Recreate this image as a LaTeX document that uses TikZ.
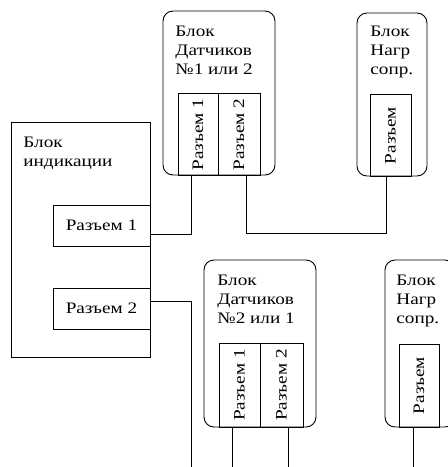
\documentclass[tikz,border=0pt]{standalone}
\usepackage{fontspec}
\setmainfont[FakeStretch=1.2]{Liberation Serif}
\usepackage{tikz}
\usetikzlibrary{positioning,calc}
\newcommand{\vtext}[1]{\rotatebox{90}{#1}}

\begin{document}
\begin{tikzpicture}[x=1pt, y=-1pt, line width=0.9pt,
    every node/.style={font=\fontsize{16}{19}\selectfont, inner sep=0pt},
    blok/.style={draw, rounded corners=10pt},
    gnezdo/.style={draw, minimum width=41pt, minimum height=82pt},
    razem/.style={draw, minimum width=97pt, minimum height=41pt},
    title/.style={anchor=north west, align=left}]
  \useasboundingbox (0,0) rectangle (448,467);
  \clip (0,0) rectangle (448,467);
  \coordinate (niz) at (0,467);
  % indication block
  \node[draw, minimum width=139pt, minimum height=235pt] (ind) at (80.5,239.5) {};
  \node[title] (indt) at (23,137) {Блок\\индикации};
  \node[razem] (r1) at (101.5,225.5) {Разъем 1};
  \node[razem] (r2) at (101.5,308.5) {Разъем 2};
  % sensors block, top
  \node[blok, minimum width=112pt, minimum height=164pt] (s1) at (219,93) {};
  \node[title] (s1t) at (175,26) {Блок\\Датчиков\\№1 или 2};
  \node[gnezdo, minimum width=40pt] (s1a) at (198,134.5) {\vtext{Разъем 1}};
  \node[gnezdo, minimum width=42pt] (s1b) at (239,134.5) {\vtext{Разъем 2}};
  % load block, top
  \node[blok, minimum width=70pt, minimum height=163pt] (n1) at (392,94.5) {};
  \node[title] (n1t) at (370,26) {Блок\\Нагр\\сопр.};
  \node[gnezdo] (n1g) at (390.5,135.5) {\vtext{Разъем}};
  % sensors block, bottom
  \node[blok, minimum width=112pt, minimum height=167pt] (s2) at (260,343.5) {};
  \node[title] (s2t) at (217,275) {Блок\\Датчиков\\№2 или 1};
  \node[gnezdo, minimum height=84pt] (s2a) at (239.5,385) {\vtext{Разъем 1}};
  \node[gnezdo, minimum width=43pt, minimum height=84pt] (s2b) at (281.5,385) {\vtext{Разъем 2}};
  % load block, bottom
  \node[blok, minimum width=70pt, minimum height=167pt] (n2) at (420,343.5) {};
  \node[title] (n2t) at (396,275) {Блок\\Нагр\\сопр.};
  \node[gnezdo, minimum width=40pt, minimum height=83pt] (n2g) at (419,385.5) {\vtext{Разъем}};
  % wires
  \draw ([xshift=-7pt]s1a.south) |- ([yshift=-8.5pt]r1.east);
  \draw ([xshift=7pt]s1b.south) -- ++(0,57) -| ([xshift=-4.5pt]n1g.south);
  \draw ([yshift=7.5pt]r2.east) -- ++(41,0) coordinate (r2t) -- (r2t |- niz);
  \draw ([xshift=-7.5pt]s2a.south) -- ([xshift=-7.5pt]s2a.south |- niz);
  \draw ([xshift=6.5pt]s2b.south) -- ([xshift=6.5pt]s2b.south |- niz);
  \draw ([xshift=-6pt]n2g.south) -- ([xshift=-6pt]n2g.south |- niz);
\end{tikzpicture}
\end{document}
